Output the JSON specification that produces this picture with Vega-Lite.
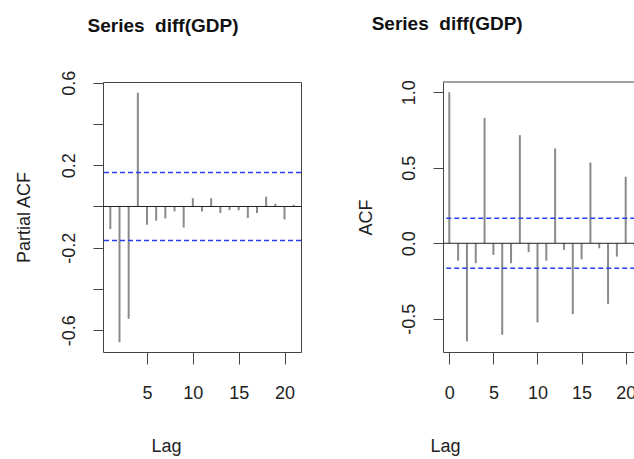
{
  "$schema": "https://vega.github.io/schema/vega-lite/v6.json",
  "background": "white",
  "padding": {"left": 14, "top": 14, "right": 0, "bottom": 0},
  "bounds": "flush",
  "spacing": 142,
  "config": {
    "font": "Liberation Sans",
    "axis": {
      "grid": false,
      "labelFont": "Liberation Sans",
      "labelFontSize": 18,
      "labelColor": "#222",
      "titleFont": "Liberation Sans",
      "titleFontSize": 18,
      "titleFontWeight": "normal",
      "titleColor": "#222",
      "tickColor": "#444",
      "domainColor": "#444"
    },
    "title": {"font": "Liberation Sans", "fontSize": 19, "fontWeight": "bold", "color": "#111"}
  },
  "datasets": {
    "pacf": [
      {"lag": 1, "v": -0.11}, {"lag": 2, "v": -0.658}, {"lag": 3, "v": -0.545}, {"lag": 4, "v": 0.552},
      {"lag": 5, "v": -0.089}, {"lag": 6, "v": -0.069}, {"lag": 7, "v": -0.058}, {"lag": 8, "v": -0.024},
      {"lag": 9, "v": -0.102}, {"lag": 10, "v": 0.04}, {"lag": 11, "v": -0.024}, {"lag": 12, "v": 0.04},
      {"lag": 13, "v": -0.031}, {"lag": 14, "v": -0.018}, {"lag": 15, "v": -0.018}, {"lag": 16, "v": -0.056},
      {"lag": 17, "v": -0.031}, {"lag": 18, "v": 0.048}, {"lag": 19, "v": 0.013}, {"lag": 20, "v": -0.063},
      {"lag": 21, "v": 0.008}
    ],
    "acf": [
      {"lag": 0, "v": 1.0}, {"lag": 1, "v": -0.115}, {"lag": 2, "v": -0.65}, {"lag": 3, "v": -0.132},
      {"lag": 4, "v": 0.83}, {"lag": 5, "v": -0.077}, {"lag": 6, "v": -0.606}, {"lag": 7, "v": -0.132},
      {"lag": 8, "v": 0.716}, {"lag": 9, "v": -0.059}, {"lag": 10, "v": -0.524}, {"lag": 11, "v": -0.115},
      {"lag": 12, "v": 0.628}, {"lag": 13, "v": -0.044}, {"lag": 14, "v": -0.469}, {"lag": 15, "v": -0.106},
      {"lag": 16, "v": 0.535}, {"lag": 17, "v": -0.033}, {"lag": 18, "v": -0.401}, {"lag": 19, "v": -0.088},
      {"lag": 20, "v": 0.441}, {"lag": 21, "v": -0.02}
    ],
    "one": [{}]
  },
  "hconcat": [
    {
      "width": 198,
      "height": 270,
      "view": {"stroke": "#444", "strokeWidth": 1},
      "title": {"text": "Series\u00a0\u00a0diff(GDP)", "frame": "group", "anchor": "middle", "dx": -39, "offset": 19, "baseline": "alphabetic"},
      "layer": [
        {
          "data": {"name": "pacf"},
          "mark": {"type": "rule", "color": "#8a8a8a", "strokeWidth": 2},
          "encoding": {
            "x": {
              "field": "lag", "type": "quantitative",
              "scale": {"domain": [0.2, 21.8], "nice": false, "zero": false},
              "axis": {"values": [5, 10, 15, 20], "domain": false, "tickSize": 12, "labelPadding": 29, "labelBaseline": "middle", "title": "Lag", "titleX": 63, "titleY": 94, "titleBaseline": "middle", "labelFlush": false}
            },
            "y": {
              "field": "v", "type": "quantitative",
              "scale": {"domain": [-0.706, 0.604], "nice": false, "zero": false},
              "axis": {
                "values": [-0.6, -0.4, -0.2, 0, 0.2, 0.4, 0.6],
                "labelExpr": "datum.value == 0.6 ? '0.6' : datum.value == 0.2 ? '0.2' : datum.value == -0.2 ? '-0.2' : datum.value == -0.6 ? '-0.6' : ''",
                "domain": false, "tickSize": 10, "labelAngle": -90, "labelAlign": "center", "labelBaseline": "middle", "labelPadding": 24, "labelFlush": false,
                "title": "Partial ACF", "titleX": -79, "titleY": 135, "titleAngle": -90, "titleAlign": "center", "titleBaseline": "middle"
              }
            },
            "y2": {"datum": 0}
          }
        },
        {
          "data": {"name": "one"},
          "mark": {"type": "rule", "color": "#222", "strokeWidth": 1},
          "encoding": {"y": {"datum": 0}}
        },
        {
          "data": {"name": "one"},
          "mark": {"type": "rule", "color": "#2a3cf0", "strokeWidth": 1.5, "strokeDash": [5, 3]},
          "encoding": {"y": {"datum": 0.165}}
        },
        {
          "data": {"name": "one"},
          "mark": {"type": "rule", "color": "#2a3cf0", "strokeWidth": 1.5, "strokeDash": [5, 3]},
          "encoding": {"y": {"datum": -0.165}}
        }
      ]
    },
    {
      "width": 192.3,
      "height": 270,
      "view": {"stroke": null},
      "title": {"text": "Series\u00a0\u00a0diff(GDP)", "frame": "group", "anchor": "middle", "dx": -92, "offset": 31, "baseline": "alphabetic"},
      "layer": [
        {
          "data": {"name": "acf"},
          "mark": {"type": "rule", "color": "#8a8a8a", "strokeWidth": 2},
          "encoding": {
            "x": {
              "field": "lag", "type": "quantitative",
              "scale": {"domain": [-0.714, 21.09], "nice": false, "zero": false},
              "axis": {"values": [0, 5, 10, 15, 20], "domain": true, "tickSize": 12, "labelPadding": 29, "labelBaseline": "middle", "title": "Lag", "titleX": 2, "titleY": 94, "titleBaseline": "middle", "labelFlush": false}
            },
            "y": {
              "field": "v", "type": "quantitative",
              "scale": {"domain": [-0.72, 1.068], "nice": false, "zero": false},
              "axis": {
                "values": [-0.5, 0, 0.5, 1],
                "labelExpr": "datum.value == 1 ? '1.0' : datum.value == 0.5 ? '0.5' : datum.value == 0 ? '0.0' : '-0.5'",
                "domain": true, "tickSize": 10, "labelAngle": -90, "labelAlign": "center", "labelBaseline": "middle", "labelPadding": 24, "labelFlush": false,
                "title": "ACF", "titleX": -77, "titleY": 135, "titleAngle": -90, "titleAlign": "center", "titleBaseline": "middle"
              }
            },
            "y2": {"datum": 0}
          }
        },
        {
          "data": {"name": "one"},
          "mark": {"type": "rule", "color": "#444", "strokeWidth": 1},
          "encoding": {"y": {"datum": 1.068}}
        },
        {
          "data": {"name": "one"},
          "mark": {"type": "rule", "color": "#222", "strokeWidth": 1},
          "encoding": {"y": {"datum": 0}}
        },
        {
          "data": {"name": "one"},
          "mark": {"type": "rule", "color": "#2a3cf0", "strokeWidth": 1.5, "strokeDash": [5, 3]},
          "encoding": {"y": {"datum": 0.165}}
        },
        {
          "data": {"name": "one"},
          "mark": {"type": "rule", "color": "#2a3cf0", "strokeWidth": 1.5, "strokeDash": [5, 3]},
          "encoding": {"y": {"datum": -0.165}}
        }
      ]
    }
  ]
}
